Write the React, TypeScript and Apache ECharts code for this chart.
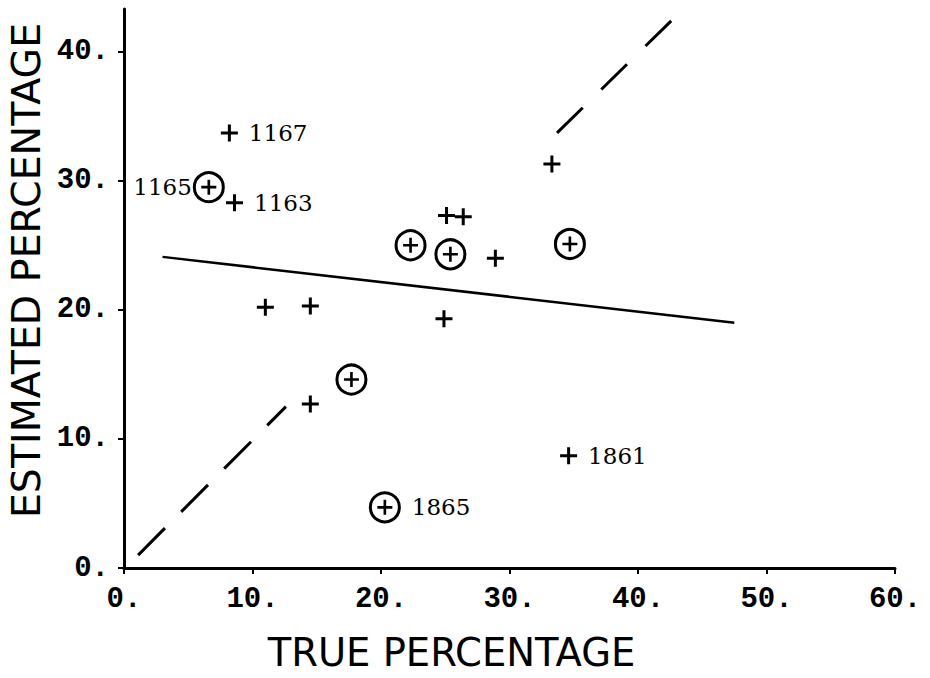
import React, { useEffect, useRef } from "react";
import * as echarts from "echarts";

// ---- data ----
const xTicks = [0, 10, 20, 30, 40, 50, 60];
const yTicks = [0, 10, 20, 30, 40];

// plain "+" observations: [true %, estimated %]
const plusPoints: [number, number][] = [
  [8.2, 33.7],
  [8.6, 28.3],
  [11.0, 20.2],
  [14.5, 20.3],
  [14.5, 12.7],
  [25.1, 27.3],
  [26.4, 27.2],
  [28.9, 24.0],
  [24.9, 19.3],
  [33.3, 31.3],
  [34.6, 8.7],
];
const plusLabels = ["1167", "1163", "", "", "", "", "", "", "", "", "1861"];

// circled observations
const circledPoints: [number, number][] = [
  [6.6, 29.5],
  [17.7, 14.6],
  [20.3, 4.7],
  [22.3, 25.0],
  [25.4, 24.3],
  [34.7, 25.1],
];
const circledLabels = ["1165", "", "1865", "", "", ""];

// fitted regression line (end points)
const regressionLine: [number, number][] = [
  [3.0, 24.1],
  [47.5, 19.0],
];

// y = x reference line, drawn in two pieces
const diagonalLow: [number, number][] = [
  [1.1, 1.0],
  [12.6, 12.5],
];
const diagonalHigh: [number, number][] = [
  [33.7, 33.7],
  [42.6, 42.4],
];

const PLUS = "path://M7,0h3v7h7v3h-7v7h-3v-7h-7v-3h7z";
const LABEL_FONT = "'DejaVu Serif', 'Liberation Serif', serif";
const TICK_FONT = "'Liberation Mono', 'DejaVu Sans Mono', monospace";
const TITLE_FONT = "'DejaVu Sans', sans-serif";

export default function App() {
  const ref = useRef<HTMLDivElement>(null);

  useEffect(() => {
    if (!ref.current) return;
    const chart = echarts.init(ref.current, undefined, { renderer: "svg" });

    const labelFor = (text: string, side: "left" | "right") =>
      text
        ? {
            show: true,
            formatter: text,
            position: side,
            distance: side === "left" ? 1 : 11,
            color: "#000",
            opacity: 1,
            fontFamily: LABEL_FONT,
            fontSize: 23,
          }
        : { show: false };

    const plusData = plusPoints.map((p, i) => ({
      value: p,
      label: labelFor(plusLabels[i], "right"),
    }));
    const circleData = circledPoints.map((p, i) => ({
      value: p,
      label: labelFor(circledLabels[i], circledLabels[i] === "1165" ? "left" : "right"),
    }));

    chart.setOption({
      animation: false,
      backgroundColor: "#fff",
      grid: {
        left: 124,
        right: 35,
        top: 9,
        bottom: 110,
        containLabel: false,
        outerBoundsMode: "none",
      },
      xAxis: {
        type: "value",
        min: 0,
        max: 60,
        interval: 10,
        name: "TRUE PERCENTAGE",
        nameLocation: "middle",
        nameGap: 65,
        nameTextStyle: {
          fontFamily: TITLE_FONT,
          fontSize: 38.5,
          color: "#000",
          padding: [0, 116, 0, 0],
        },
        axisLine: { show: true, lineStyle: { color: "#000", width: 3 } },
        axisTick: { show: true, length: 6, lineStyle: { color: "#000", width: 2 }, customValues: xTicks },
        axisLabel: {
          customValues: xTicks,
          formatter: (v: number) => `${v}.`,
          fontFamily: TICK_FONT,
          fontWeight: "bold",
          fontSize: 29,
          color: "#000",
          margin: 17,
        },
        splitLine: { show: false },
      },
      yAxis: {
        type: "value",
        min: 0,
        max: 43.3,
        interval: 10,
        name: "ESTIMATED PERCENTAGE",
        nameLocation: "middle",
        nameGap: 76,
        nameTextStyle: {
          fontFamily: TITLE_FONT,
          fontSize: 39.5,
          color: "#000",
          padding: [0, 0, 0, 36],
        },
        axisLine: { show: true, lineStyle: { color: "#000", width: 3 } },
        axisTick: { show: true, length: 6, lineStyle: { color: "#000", width: 2 }, customValues: yTicks },
        axisLabel: {
          customValues: yTicks,
          formatter: (v: number) => `${v}.`,
          fontFamily: TICK_FONT,
          fontWeight: "bold",
          fontSize: 29,
          color: "#000",
          margin: 15,
        },
        splitLine: { show: false },
      },
      series: [
        {
          type: "line",
          data: regressionLine,
          symbol: "none",
          lineStyle: { color: "#000", width: 2.5 },
          z: 2,
        },
        {
          type: "line",
          data: diagonalLow,
          symbol: "none",
          lineStyle: { color: "#000", width: 3, type: [38, 23] },
          z: 2,
        },
        {
          type: "line",
          data: diagonalHigh,
          symbol: "none",
          lineStyle: { color: "#000", width: 3, type: [36, 26] },
          z: 2,
        },
        {
          type: "scatter",
          data: plusData,
          symbol: PLUS,
          symbolSize: 17,
          itemStyle: { color: "#000", opacity: 1 },
          z: 3,
        },
        {
          type: "scatter",
          data: circleData,
          symbol: "circle",
          symbolSize: 29,
          itemStyle: { color: "rgba(0,0,0,0)", borderColor: "#000", borderWidth: 3, opacity: 1 },
          z: 3,
        },
        {
          type: "scatter",
          data: circledPoints,
          symbol: PLUS,
          symbolSize: 15,
          itemStyle: { color: "#000", opacity: 1 },
          z: 4,
        },
      ],
    });

    return () => chart.dispose();
  }, []);

  return (
    <div
      ref={ref}
      style={{ position: "fixed", left: 0, top: 0, width: 930, height: 678, background: "#fff" }}
    />
  );
}
